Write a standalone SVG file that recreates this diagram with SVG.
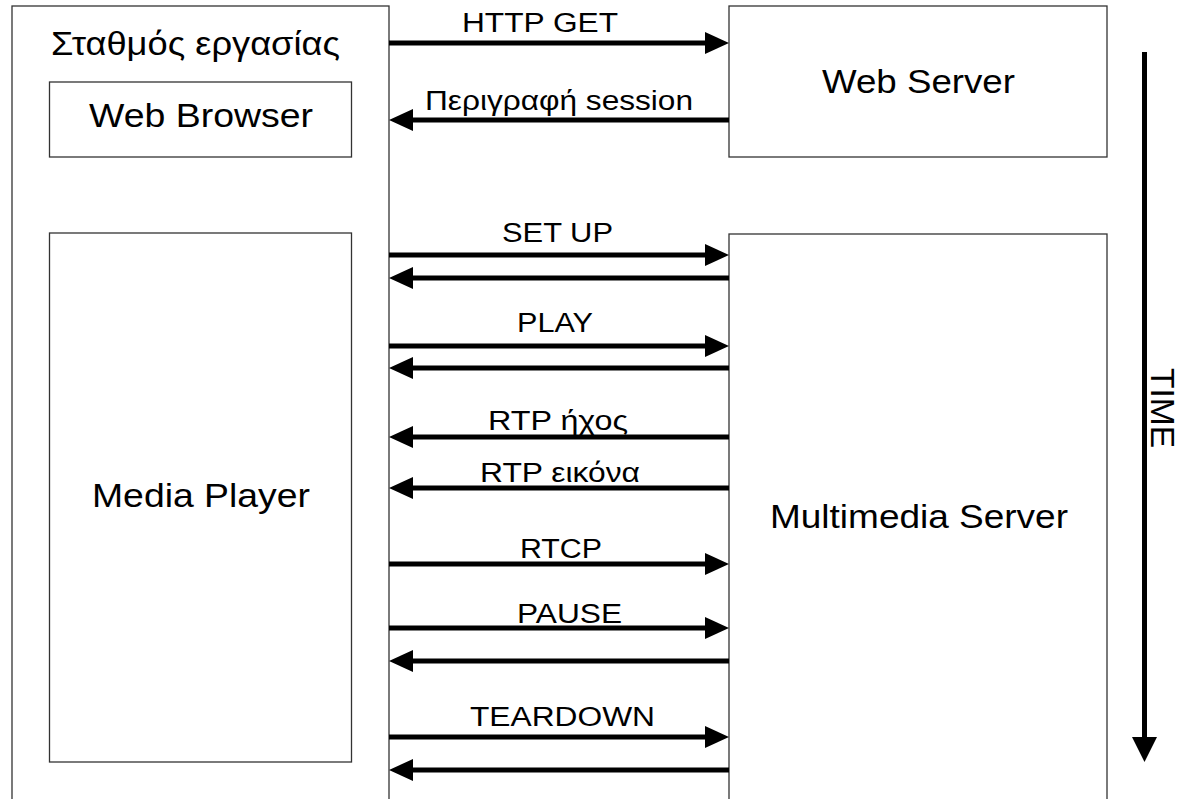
<svg xmlns="http://www.w3.org/2000/svg" width="1180" height="799" viewBox="0 0 1180 799">
  <style>
    .box { fill: #fff; stroke: #333; stroke-width: 1.3; }
    .big { font-family: "Liberation Sans", Arial, sans-serif; font-size: 34px; fill: #000; }
    .lbl { font-family: "Liberation Sans", Arial, sans-serif; font-size: 27px; fill: #000; }
    .msg { stroke: #000; stroke-width: 5; fill: none; }
  </style>
  <defs>
    <marker id="head" markerUnits="userSpaceOnUse" markerWidth="24" markerHeight="22" refX="0" refY="11" orient="auto" overflow="visible">
      <path d="M0,0 L24,11 L0,22 Z" fill="#000"/>
    </marker>
  </defs>
  <rect width="1180" height="799" fill="#fff"/>

  <!-- workstation with its two components -->
  <g id="workstation">
    <rect class="box" x="12" y="6" width="377" height="820"/>
    <text class="big" x="51" y="55" textLength="289" lengthAdjust="spacingAndGlyphs">Σταθμός εργασίας</text>
  </g>
  <g id="web-browser">
    <rect class="box" x="49.5" y="82" width="302" height="75"/>
    <text class="big" x="89" y="127" textLength="224" lengthAdjust="spacingAndGlyphs">Web Browser</text>
  </g>
  <g id="media-player">
    <rect class="box" x="49.5" y="233" width="302" height="529"/>
    <text class="big" x="92" y="507" textLength="218" lengthAdjust="spacingAndGlyphs">Media Player</text>
  </g>

  <!-- servers -->
  <g id="web-server">
    <rect class="box" x="729" y="6" width="378" height="151"/>
    <text class="big" x="822" y="93" textLength="193" lengthAdjust="spacingAndGlyphs">Web Server</text>
  </g>
  <g id="multimedia-server">
    <rect class="box" x="729" y="234" width="378" height="600"/>
    <text class="big" x="770" y="528" textLength="298" lengthAdjust="spacingAndGlyphs">Multimedia Server</text>
  </g>

  <!-- message exchange -->
  <g id="connectors">
    <line class="msg" x1="389" y1="43" x2="705" y2="43" marker-end="url(#head)"/>
    <line class="msg" x1="729" y1="120" x2="413" y2="120" marker-end="url(#head)"/>
    <line class="msg" x1="389" y1="255" x2="705" y2="255" marker-end="url(#head)"/>
    <line class="msg" x1="729" y1="278" x2="413" y2="278" marker-end="url(#head)"/>
    <line class="msg" x1="389" y1="346" x2="705" y2="346" marker-end="url(#head)"/>
    <line class="msg" x1="729" y1="368" x2="413" y2="368" marker-end="url(#head)"/>
    <line class="msg" x1="729" y1="437" x2="413" y2="437" marker-end="url(#head)"/>
    <line class="msg" x1="729" y1="488" x2="413" y2="488" marker-end="url(#head)"/>
    <line class="msg" x1="389" y1="564" x2="705" y2="564" marker-end="url(#head)"/>
    <line class="msg" x1="389" y1="628" x2="705" y2="628" marker-end="url(#head)"/>
    <line class="msg" x1="729" y1="661" x2="413" y2="661" marker-end="url(#head)"/>
    <line class="msg" x1="389" y1="737" x2="705" y2="737" marker-end="url(#head)"/>
    <line class="msg" x1="729" y1="770" x2="413" y2="770" marker-end="url(#head)"/>

    <text class="lbl" x="462" y="32" textLength="156" lengthAdjust="spacingAndGlyphs">HTTP GET</text>
    <text class="lbl" x="425" y="110" textLength="268" lengthAdjust="spacingAndGlyphs">Περιγραφή session</text>
    <text class="lbl" x="502" y="242" textLength="111" lengthAdjust="spacingAndGlyphs">SET UP</text>
    <text class="lbl" x="517" y="332" textLength="76" lengthAdjust="spacingAndGlyphs">PLAY</text>
    <text class="lbl" x="488" y="430" textLength="140" lengthAdjust="spacingAndGlyphs">RTP ήχος</text>
    <text class="lbl" x="480" y="482" textLength="160" lengthAdjust="spacingAndGlyphs">RTP εικόνα</text>
    <text class="lbl" x="520" y="558" textLength="82" lengthAdjust="spacingAndGlyphs">RTCP</text>
    <text class="lbl" x="517" y="623" textLength="105" lengthAdjust="spacingAndGlyphs">PAUSE</text>
    <text class="lbl" x="470" y="726" textLength="185" lengthAdjust="spacingAndGlyphs">TEARDOWN</text>
  </g>

  <!-- time axis -->
  <g id="time-axis">
    <line x1="1144.5" y1="52" x2="1144.5" y2="738" stroke="#000" stroke-width="5"/>
    <path d="M1132,737 L1157,737 L1144.5,762 Z" fill="#000"/>
    <text class="big" transform="translate(1151,368) rotate(90)" x="0" y="0" font-size="28" textLength="80" lengthAdjust="spacingAndGlyphs">TIME</text>
  </g>
</svg>
